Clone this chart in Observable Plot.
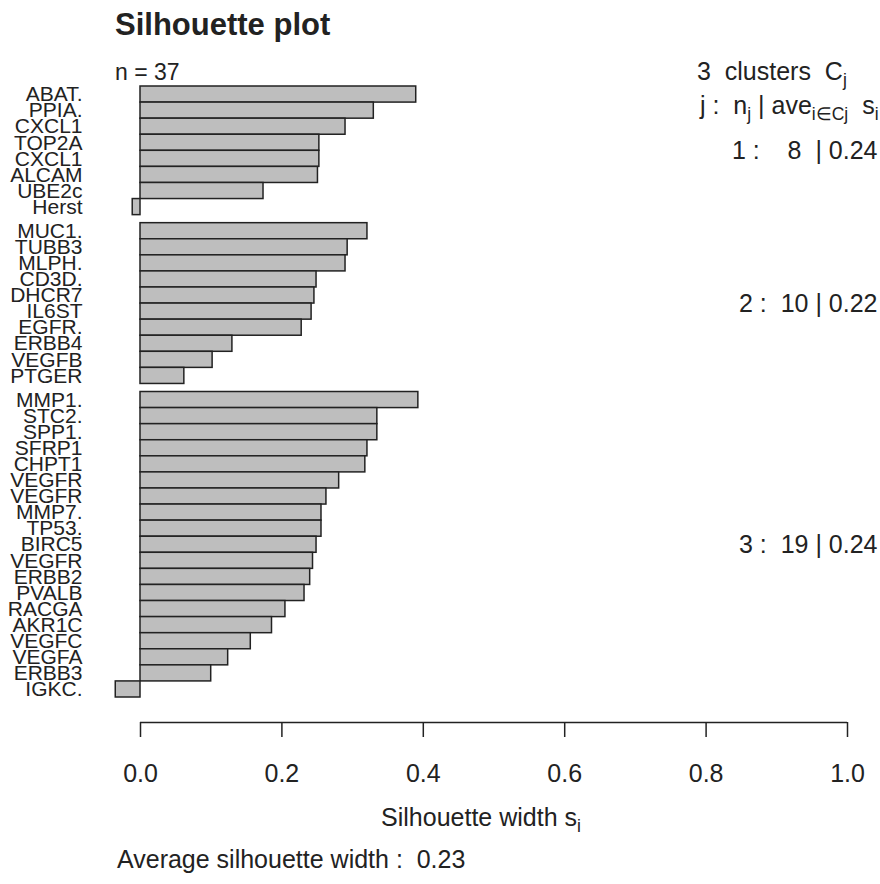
<!DOCTYPE html>
<html><head><meta charset="utf-8">
<script src="https://cdn.jsdelivr.net/npm/d3@7"></script>
<script src="https://cdn.jsdelivr.net/npm/@observablehq/plot@0.6"></script>
<style>
body{margin:0;background:#fff}
svg text{white-space:pre}
</style>
</head><body><div id="chart"></div>
<script>
// ---- data ----
const genes1 = ["ABAT.","PPIA.","CXCL1","TOP2A","CXCL1","ALCAM","UBE2c","Herst"];
const sil1   = [0.390, 0.330, 0.290, 0.253, 0.253, 0.251, 0.174, -0.011];
const genes2 = ["MUC1.","TUBB3","MLPH.","CD3D.","DHCR7","IL6ST","EGFR.","ERBB4","VEGFB","PTGER"];
const sil2   = [0.321, 0.293, 0.290, 0.249, 0.246, 0.242, 0.228, 0.130, 0.102, 0.062];
const genes3 = ["MMP1.","STC2.","SPP1.","SFRP1","CHPT1","VEGFR","VEGFR","MMP7.","TP53.","BIRC5",
                "VEGFR","ERBB2","PVALB","RACGA","AKR1C","VEGFC","VEGFA","ERBB3","IGKC."];
const sil3   = [0.393, 0.335, 0.335, 0.321, 0.318, 0.281, 0.263, 0.256, 0.256, 0.249,
                0.244, 0.240, 0.232, 0.205, 0.186, 0.156, 0.124, 0.100, -0.035];
const clusterIds  = [1, 2, 3];
const clusterAvg  = [0.24, 0.22, 0.24];
const overallAvg  = 0.23;
const xTicks      = [0, 0.2, 0.4, 0.6, 0.8, 1.0];
const xTickLabels = ["0.0", "0.2", "0.4", "0.6", "0.8", "1.0"];

// ---- build table ----
const groups = [[genes1, sil1], [genes2, sil2], [genes3, sil3]];
const rows = [];
const clusters = [];
let pos = 0;
groups.forEach(([g, s], ci) => {
  if (ci > 0) pos += 0.5;
  const start = pos;
  g.forEach((name, i) => { rows.push({cluster: clusterIds[ci], name, s: s[i], y1: pos, y2: pos + 1, ym: pos + 0.5}); pos += 1; });
  const n = g.length;
  const nStr = n < 10 ? "  " + n + " " : String(n);
  clusters.push({ym: (start + pos) / 2, label: `${clusterIds[ci]} :  ${nStr} | ${clusterAvg[ci].toFixed(2)}`});
});
const total = pos;

const font = "'Liberation Sans', Arial, sans-serif";
const ink = "#222";

const plot = Plot.plot({
  width: 880, height: 884,
  marginLeft: 140, marginRight: 33, marginTop: 86, marginBottom: 187,
  style: {fontFamily: font, background: "#fff", color: ink},
  x: {domain: [0, 1], axis: null},
  y: {domain: [0, total], reverse: true, axis: null},
  marks: [
    Plot.rectX(rows, {x1: 0, x2: "s", y1: "y1", y2: "y2", fill: "#bebebe", stroke: ink, strokeWidth: 1.5}),
    Plot.text(rows, {x: 0, y: "ym", text: "name", textAnchor: "end", dx: -58, fontSize: 21, fill: ink}),
    Plot.text(clusters, {x: 1, y: "ym", text: "label", textAnchor: "end", dx: 30, fontSize: 25, fill: ink}),
    Plot.ruleY([total], {x1: 0, x2: 1, dy: 25, stroke: ink, strokeWidth: 1.5}),
    Plot.axisX(xTicks, {anchor: "bottom", label: null, tickSize: 15, tickPadding: 27, dy: 25, fontSize: 25,
      tickFormat: d => xTickLabels[xTicks.indexOf(d)], stroke: ink, strokeWidth: 1.5, fill: ink})
  ]
});
document.getElementById("chart").appendChild(plot);

// ---- annotations with sub-scripts ----
const svg = d3.select(plot);
function addText(x, y, parts, opts = {}) {
  const size = opts.size || 25;
  const t = svg.append("text").attr("x", x).attr("y", y)
    .attr("font-family", font).attr("font-size", size)
    .attr("fill", ink).attr("text-anchor", opts.anchor || "start")
    .attr("font-weight", opts.weight || "normal");
  let shifted = false;
  parts.forEach(p => {
    if (typeof p === "string") {
      const ts = t.append("tspan").text(p);
      if (shifted) { ts.attr("dy", -6); shifted = false; }
    } else {
      t.append("tspan").attr("font-size", size * 0.7).attr("dy", shifted ? 0 : 6).text(p.sub);
      shifted = true;
    }
  });
  return t;
}
addText(115, 35, ["Silhouette plot"], {size: 31, weight: "bold"});
addText(115, 80, ["n = " + rows.length], {size: 23});
addText(697, 80, ["3  clusters  C", {sub: "j"}]);
addText(700, 114, ["j :  n", {sub: "j"}, " | ave", {sub: "i\u2208Cj"}, "  s", {sub: "i"}]);
addText(481, 826, ["Silhouette width s", {sub: "i"}], {anchor: "middle"});
addText(117, 868, ["Average silhouette width :  " + overallAvg.toFixed(2)]);
</script>
</body></html>
